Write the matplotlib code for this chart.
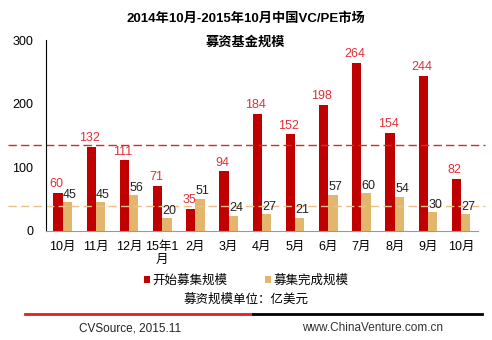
import matplotlib.pyplot as plt
from matplotlib.lines import Line2D
import numpy as np

plt.rcParams['font.family'] = ['Liberation Sans', 'Noto Sans CJK SC', 'DejaVu Sans']

# ---------------- DATA ----------------
months = ['10月', '11月', '12月', '15年1\n月', '2月', '3月', '4月', '5月', '6月', '7月', '8月', '9月', '10月']
start_size = [60, 132, 111, 71, 35, 94, 184, 152, 198, 264, 154, 244, 82]
done_size = [45, 45, 56, 20, 51, 24, 27, 21, 57, 60, 54, 30, 27]
start_avg = 135
done_avg = 39

RED = '#C00000'
TAN = '#E3B66E'

fig = plt.figure(figsize=(4.92, 3.4), dpi=100)
ax = fig.add_axes([0.0935, 0.3206, 0.8775, 0.5617])

x = np.arange(len(months))
w = 0.28
ax.bar(x - w / 2, start_size, w, color=RED, label='开始募集规模')
ax.bar(x + w / 2, done_size, w, color=TAN, label='募集完成规模')

for i in range(len(months)):
    ax.text(x[i] - w / 2 - 0.05, start_size[i] + 4, str(start_size[i]), ha='center', va='bottom',
            fontsize=9, color='#E0303A')
    ax.text(x[i] + w / 2 + 0.08, done_size[i] + 2, str(done_size[i]), ha='center', va='bottom',
            fontsize=9, color='#222222')

# average dashed lines running past the axes
ax.axhline(start_avg, xmin=-0.088, xmax=1.016, color='#D42A2A', ls=(0, (6, 3)), lw=1, clip_on=False)
ax.axhline(done_avg, xmin=-0.088, xmax=1.016, color='#EBC189', ls=(0, (6, 3)), lw=1, clip_on=False)

ax.set_xlim(-0.5, len(months) - 0.5)
ax.set_ylim(0, 300)
ax.set_yticks([0, 100, 200, 300])
ax.set_xticks(x)
ax.set_xticklabels(months, fontsize=9, linespacing=1.1)
ax.tick_params(axis='both', length=0, labelsize=9, pad=7)
ax.tick_params(axis='y', pad=9)
for s in ['top', 'right']:
    ax.spines[s].set_visible(False)
ax.spines['left'].set_color('black')
ax.spines['bottom'].set_color('#999999')

fig.text(0.5, 0.945, '2014年10月-2015年10月中国VC/PE市场', ha='center', va='center',
         fontsize=9.5, fontweight='bold')
fig.text(0.5, 0.875, '募资基金规模', ha='center', va='center', fontsize=9.5, fontweight='bold')

leg = fig.legend(loc='center', bbox_to_anchor=(0.5, 0.175), ncol=2, frameon=False, fontsize=9,
                 handlelength=0.5, handleheight=0.5, handletextpad=0.2, columnspacing=3)
fig.text(0.5, 0.118, '募资规模单位：亿美元', ha='center', va='center', fontsize=9)

fig.add_artist(Line2D([0.05, 0.515], [0.077, 0.077], color='#E02020', lw=2))
fig.add_artist(Line2D([0.515, 0.98], [0.077, 0.077], color='black', lw=2))
fig.text(0.265, 0.035, 'CVSource, 2015.11', ha='center', va='center', fontsize=8.5, color='#222222')
fig.text(0.758, 0.035, 'www.ChinaVenture.com.cn', ha='center', va='center', fontsize=8.5, color='#333333')

fig.savefig('out.png', dpi=100)
